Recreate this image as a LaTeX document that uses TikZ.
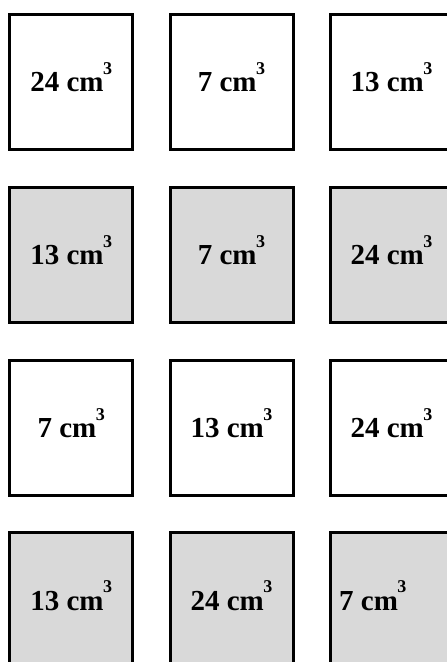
\documentclass[tikz,border=0pt]{standalone}
\usepackage{fontspec}
\setmainfont{Liberation Serif}
\definecolor{boxgray}{RGB}{217,217,217}
\newcommand{\cmc}[1]{#1 cm\kern-0.5pt\raisebox{17.5pt}{\fontsize{18}{18}\selectfont\bfseries 3}}
\tikzset{
  card/.style={draw=black, line width=3pt, minimum width=123pt, minimum height=135.5pt,
    inner sep=0pt, font=\fontsize{29}{29}\selectfont\bfseries, text height=19.5pt, text depth=0pt},
  plain/.style={card, fill=white},
  shaded/.style={card, fill=boxgray},
  lbl/.style={inner sep=0pt, font=\fontsize{29}{29}\selectfont\bfseries, text height=19.5pt, text depth=0pt}
}
\begin{document}
\begin{tikzpicture}[x=1pt,y=-1pt]
\useasboundingbox (0,0) rectangle (447,662);
\fill[white] (0,0) rectangle (447,662);
\clip (0,0) rectangle (447,662);
% row 1
\node[plain] (r1c1) at (71.25,82.2) {\cmc{24}};
\node[plain] (r1c2) at (231.5,82.2) {\cmc{7}};
\node[plain] (r1c3) at (391.5,82.2) {\cmc{13}};
% row 2
\node[shaded] (r2c1) at (71.25,255.0) {\cmc{13}};
\node[shaded] (r2c2) at (231.5,255.0) {\cmc{7}};
\node[shaded] (r2c3) at (391.5,255.0) {\cmc{24}};
% row 3
\node[plain] (r3c1) at (71.25,427.8) {\cmc{7}};
\node[plain] (r3c2) at (231.5,427.8) {\cmc{13}};
\node[plain] (r3c3) at (391.5,427.8) {\cmc{24}};
% row 4
\node[shaded] (r4c1) at (71.25,600.6) {\cmc{13}};
\node[shaded] (r4c2) at (231.5,600.6) {\cmc{24}};
\node[shaded] (r4c3) at (391.5,600.6) {};
\node[lbl, anchor=west] (r4c3t) at (339,600.6) {\cmc{7}};
\end{tikzpicture}
\end{document}
